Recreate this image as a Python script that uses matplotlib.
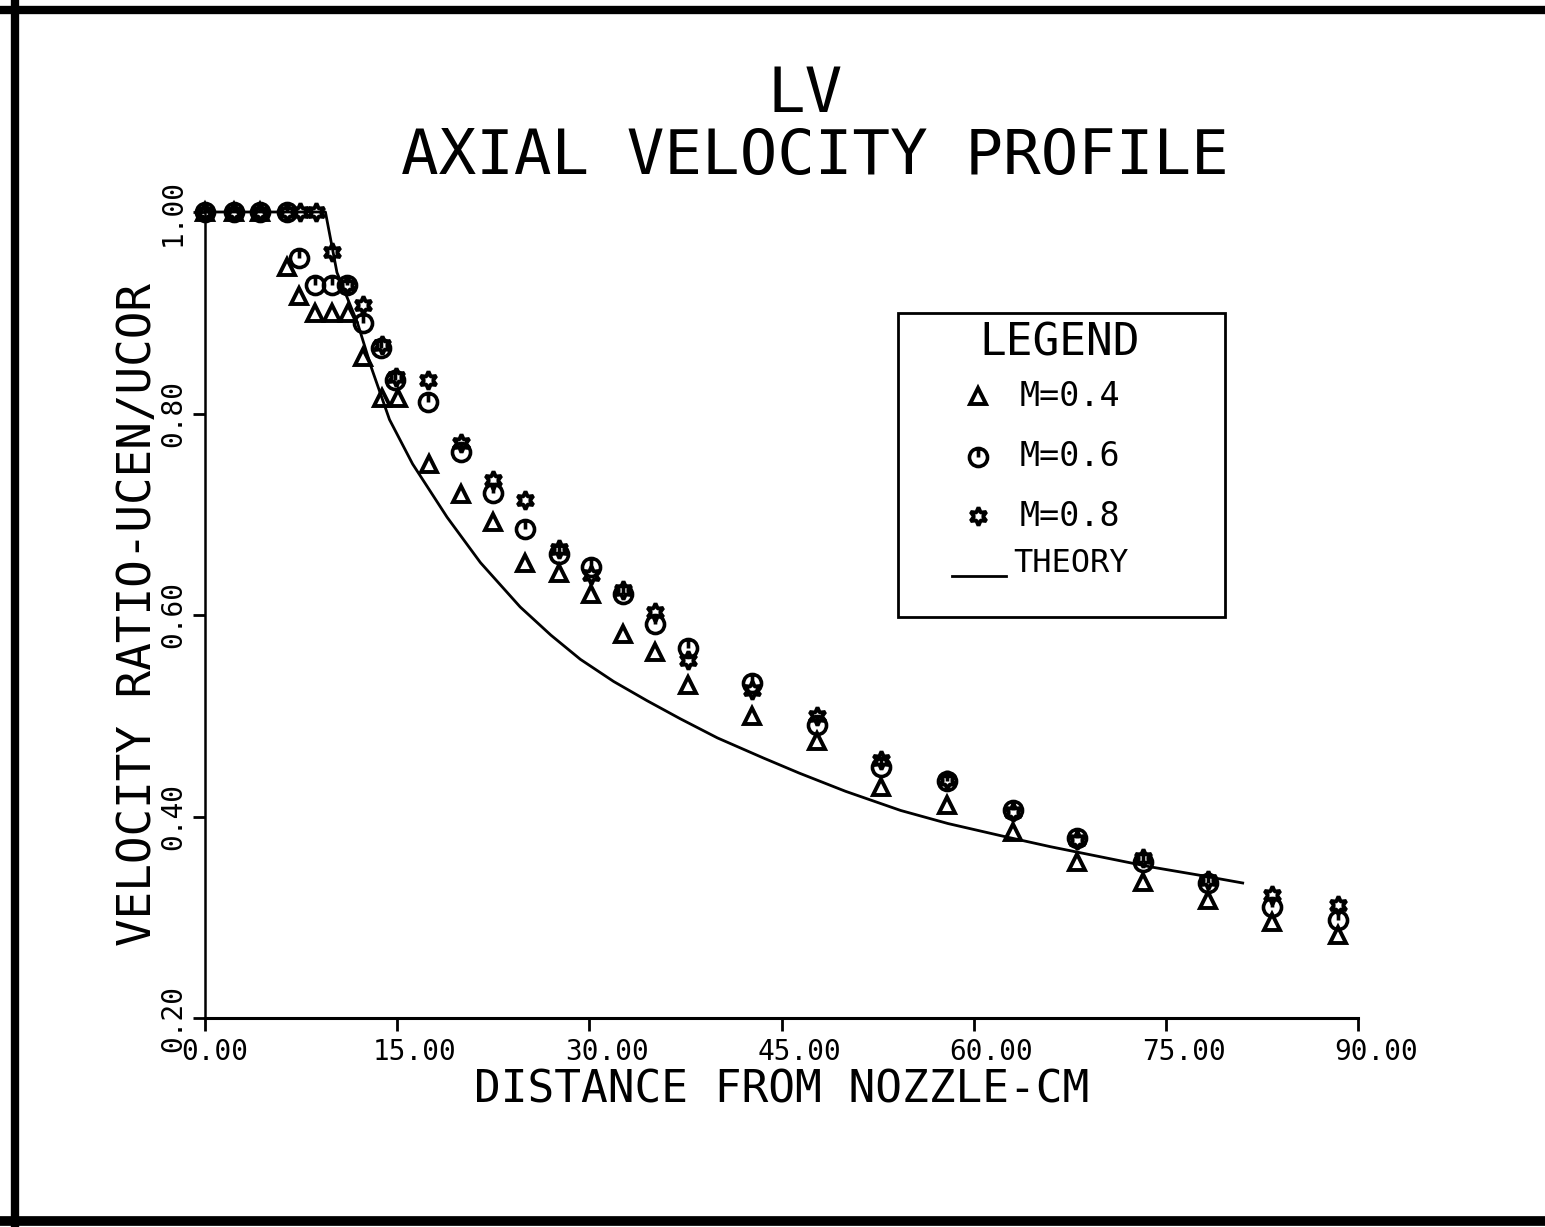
import numpy as np
import matplotlib
matplotlib.use("Agg")
import matplotlib.pyplot as plt
from matplotlib.path import Path
from matplotlib import transforms as mtransforms

# data
x_m04 = [0, 2.3, 4.3, 6.4, 7.3, 8.6, 9.9, 11.2, 12.3, 13.8, 15.1, 17.5, 20.0,
         22.5, 25.0, 27.6, 30.1, 32.6, 35.1, 37.7, 42.7, 47.8, 52.8, 57.9,
         63.1, 68.1, 73.2, 78.3, 83.3, 88.4]
y_m04 = [1.0, 1.0, 1.0, 0.945, 0.917, 0.90, 0.90, 0.90, 0.856, 0.815, 0.815,
         0.750, 0.720, 0.692, 0.652, 0.642, 0.621, 0.581, 0.563, 0.531, 0.500,
         0.475, 0.429, 0.411, 0.385, 0.355, 0.335, 0.317, 0.295, 0.282]

x_m06 = [0, 2.3, 4.3, 6.4, 7.3, 8.6, 9.9, 11.1, 12.3, 13.7, 14.8, 17.4, 20.0,
         22.5, 25.0, 27.6, 30.1, 32.6, 35.1, 37.7, 42.7, 47.8, 52.8, 57.9,
         63.1, 68.1, 73.2, 78.3, 83.3, 88.4]
y_m06 = [1.0, 1.0, 1.0, 1.0, 0.954, 0.928, 0.928, 0.928, 0.890, 0.865, 0.833,
         0.811, 0.762, 0.721, 0.685, 0.661, 0.648, 0.621, 0.591, 0.567, 0.533,
         0.491, 0.449, 0.435, 0.406, 0.379, 0.355, 0.334, 0.310, 0.297]

x_m08 = [0, 2.3, 4.3, 6.4, 7.4, 8.7, 9.9, 11.1, 12.3, 13.8, 14.9, 17.4, 20.0,
         22.5, 25.0, 27.6, 30.1, 32.6, 35.1, 37.7, 42.7, 47.8, 52.8, 57.9,
         63.1, 68.1, 73.2, 78.3, 83.3, 88.4]
y_m08 = [1.0, 1.0, 1.0, 1.0, 1.0, 1.0, 0.960, 0.928, 0.908, 0.868, 0.836,
         0.833, 0.771, 0.734, 0.714, 0.666, 0.640, 0.625, 0.603, 0.555, 0.526,
         0.500, 0.456, 0.436, 0.404, 0.377, 0.359, 0.337, 0.322, 0.312]

x_theory = [0, 9.4, 10.3, 11.9, 13.0, 14.4, 16.2, 18.9, 21.5, 24.6, 27.0, 29.3,
            31.9, 34.5, 37.1, 40.0, 43.6, 46.4, 50.0, 54.3, 58.0, 62.1, 66.0,
            69.9, 73.8, 77.5, 81.0]
y_theory = [1.0, 1.0, 0.94, 0.89, 0.845, 0.794, 0.750, 0.697, 0.652, 0.608,
            0.580, 0.556, 0.534, 0.515, 0.497, 0.478, 0.458, 0.443, 0.425,
            0.406, 0.393, 0.381, 0.370, 0.360, 0.350, 0.342, 0.334]

x_ticks = [0, 15, 30, 45, 60, 75, 90]
y_ticks = [0.2, 0.4, 0.6, 0.8, 1.0]

FONT = "DejaVu Sans Mono"

# circle with a stroke inside, like the plotter symbol
circ = Path.unit_circle()
circle_tick = Path(np.vstack([circ.vertices, [[0, 0], [0, 0.9]]]),
                   np.concatenate([circ.codes, [Path.MOVETO, Path.LINETO]]))
star6 = (6, 1, 0)

fig = plt.figure(figsize=(15.45, 12.27), dpi=100)
ax = fig.add_axes([205 / 1545, 1 - 1018 / 1227, (1358 - 205) / 1545, (1018 - 212) / 1227])

ax.plot(x_theory, y_theory, color="black", lw=2.0, clip_on=False)
ax.plot(x_m04, y_m04, ls="none", marker="^", ms=11, mfc="none", mec="black",
        mew=2.8, clip_on=False)
ax.plot(x_m06, y_m06, ls="none", marker=circle_tick, ms=13, mfc="none",
        mec="black", mew=2.6, clip_on=False)
ax.plot(x_m08, y_m08, ls="none", marker=star6, ms=13, mfc="none", mec="black",
        mew=2.8, clip_on=False)

ax.set_xlim(0, 90)
ax.set_ylim(0.2, 1.0)
for s in ["top", "right"]:
    ax.spines[s].set_visible(False)
ax.spines["left"].set_linewidth(1.8)
ax.spines["bottom"].set_linewidth(2.2)
ax.tick_params(axis="both", direction="out", length=9, width=2, color="black")

# x tick labels sit a bit right of their ticks on the original plot
ax.set_xticks(x_ticks)
ax.set_xticklabels([])
xlab_tr = mtransforms.offset_copy(ax.get_xaxis_transform(), fig=fig,
                                  x=-24, y=-20, units="dots")
for v in x_ticks:
    ax.text(v, 0, "%.2f" % v, transform=xlab_tr, fontsize=20, family=FONT,
            ha="left", va="top")

ax.set_yticks(y_ticks)
ax.set_yticklabels(["%.2f" % v for v in y_ticks], fontsize=20, family=FONT,
                   rotation=90, va="center")
ax.tick_params(axis="y", pad=4)

ax.set_xlabel("DISTANCE FROM NOZZLE-CM", fontsize=32, family=FONT, labelpad=24)
ax.yaxis.set_label_coords(-44 / 1153, 0.5)
ax.set_ylabel("VELOCITY RATIO-UCEN/UCOR", fontsize=33, family=FONT)

fig.text(805 / 1545, 1 - 95 / 1227, "LV", fontsize=45, family=FONT,
         ha="center", va="center")
fig.text(815 / 1545, 1 - 157 / 1227, "AXIAL VELOCITY PROFILE", fontsize=45,
         family=FONT, ha="center", va="center")

# legend box drawn by hand, the way the plotter did
box = plt.Rectangle((54.1, 0.598), 25.5, 0.302, fill=False, ec="black", lw=2.0,
                    clip_on=False)
ax.add_patch(box)
ax.text(66.7, 0.870, "LEGEND", fontsize=32, family=FONT, ha="center", va="center")
ax.plot([60.3], [0.817], marker="^", ms=11, mfc="none", mec="black", mew=2.8)
ax.plot([60.3], [0.757], marker=circle_tick, ms=13, mfc="none", mec="black", mew=2.6)
ax.plot([60.3], [0.698], marker=star6, ms=13, mfc="none", mec="black", mew=2.8)
ax.text(63.6, 0.817, "M=0.4", fontsize=24, family=FONT, va="center")
ax.text(63.6, 0.757, "M=0.6", fontsize=24, family=FONT, va="center")
ax.text(63.6, 0.698, "M=0.8", fontsize=24, family=FONT, va="center")
ax.plot([58.3, 62.5], [0.639, 0.639], color="black", lw=2.0)
ax.text(63.1, 0.651, "THEORY", fontsize=23, family=FONT, va="center")

# dark page edges from the scan
fig.add_artist(plt.Line2D([15 / 1545, 15 / 1545], [0, 1], color="black", lw=6,
                          transform=fig.transFigure))
fig.add_artist(plt.Line2D([0, 1], [1 - 10 / 1227, 1 - 10 / 1227], color="black",
                          lw=6, transform=fig.transFigure))
fig.add_artist(plt.Line2D([0, 1], [1 - 1221 / 1227, 1 - 1221 / 1227],
                          color="black", lw=7, transform=fig.transFigure))

fig.savefig("out.png", dpi=100, facecolor="white")
